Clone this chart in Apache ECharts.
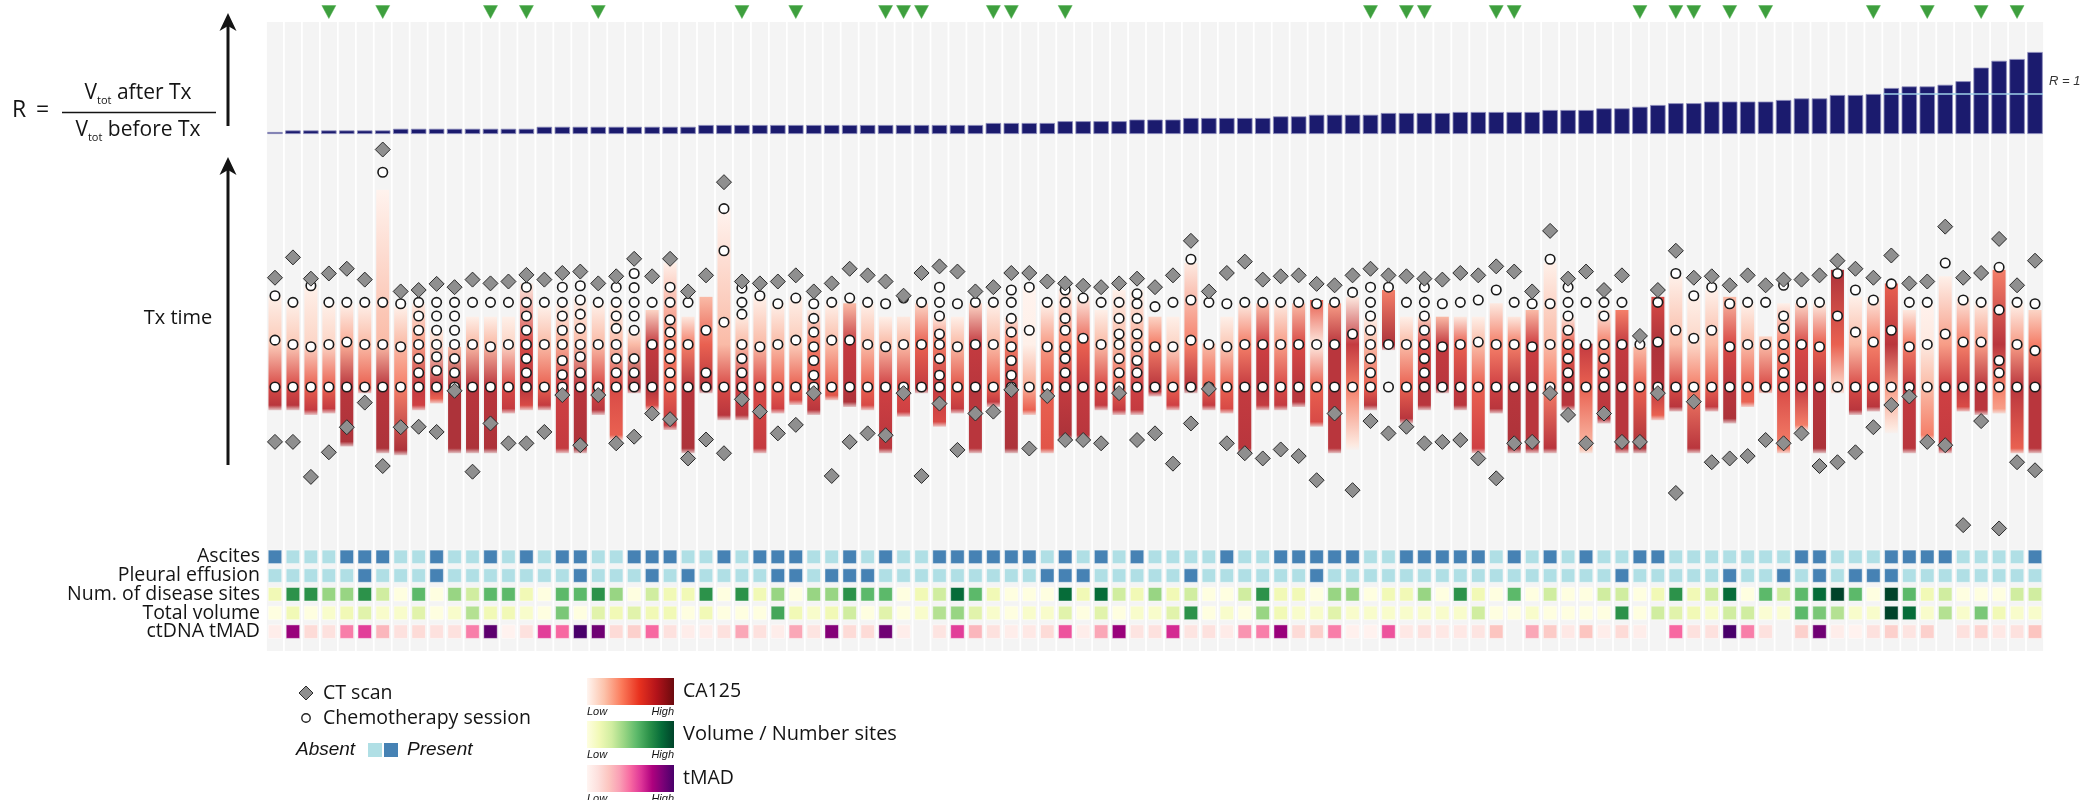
<!DOCTYPE html>
<html>
<head>
<meta charset="utf-8">
<title>Tumour volume response and treatment timelines</title>
<script src="https://cdn.jsdelivr.net/npm/echarts/dist/echarts.min.js"></script>
<style>
  html, body { margin: 0; padding: 0; background: #ffffff; }
  #chart { width: 2093px; height: 800px; }
</style>
</head>
<body>
<div id="chart"></div>
<script>
// ---------------------------------------------------------------------------
// Per-patient data (patients ordered by increasing volume ratio R)
// ---------------------------------------------------------------------------

// R = Vtot after Tx / Vtot before Tx
const volumeRatio = [
  0.05, 0.09, 0.09, 0.09, 0.09, 0.09, 0.09, 0.13, 0.13, 0.13,
  0.13, 0.13, 0.13, 0.13, 0.13, 0.18, 0.18, 0.18, 0.18, 0.18,
  0.18, 0.18, 0.18, 0.18, 0.225, 0.225, 0.225, 0.225, 0.225, 0.225,
  0.225, 0.225, 0.225, 0.225, 0.225, 0.225, 0.225, 0.225, 0.225, 0.225,
  0.275, 0.275, 0.275, 0.275, 0.32, 0.32, 0.32, 0.32, 0.36, 0.36,
  0.36, 0.40, 0.40, 0.40, 0.40, 0.40, 0.44, 0.44, 0.48, 0.48,
  0.48, 0.48, 0.525, 0.525, 0.525, 0.525, 0.55, 0.55, 0.55, 0.55,
  0.55, 0.60, 0.60, 0.60, 0.64, 0.64, 0.68, 0.725, 0.77, 0.77,
  0.81, 0.81, 0.81, 0.81, 0.85, 0.89, 0.89, 0.975, 0.975, 1.0,
  1.15, 1.19, 1.19, 1.23, 1.32, 1.66, 1.83, 1.875, 2.05
];

const patientIds = volumeRatio.map((_, i) => 'PT' + String(i + 1).padStart(3, '0'));

// Patients flagged with a green marker above their column (1-based)
const flaggedPatients = [4, 7, 13, 15, 19, 27, 30, 35, 36, 37, 41, 42, 45, 62, 64, 65,
                         69, 70, 77, 79, 80, 82, 84, 90, 93, 96, 98];

// CT scan times, weeks from first chemotherapy session: [baseline, follow-up]
const ctScanWeeks = [
  [-11.6, 23.1], [-11.6, 27.4], [-19.0, 22.9], [-13.8, 24.0], [-8.5, 25.0],
  [-3.3, 22.7], [-16.7, 50.2], [-8.5, 20.2], [-8.4, 20.5], [-9.5, 21.8],
  [-0.8, 21.1], [-17.9, 22.7], [-7.7, 21.9], [-11.9, 22.3], [-11.9, 23.7],
  [-9.5, 22.7], [-1.7, 24.1], [-12.3, 24.4], [-1.7, 21.9], [-11.9, 23.4],
  [-10.5, 27.1], [-5.6, 23.4], [-6.8, 27.1], [-15.1, 20.2], [-11.1, 23.6],
  [-14.0, 43.3], [-2.6, 22.3], [-5.2, 21.9], [-9.8, 22.3], [-8.0, 23.6],
  [-1.3, 20.2], [-18.8, 21.9], [-11.6, 25.0], [-9.8, 23.6], [-10.2, 22.3],
  [-1.3, 19.3], [-18.8, 24.1], [-3.5, 25.5], [-13.3, 24.4], [-5.6, 20.2],
  [-5.2, 21.1], [-0.6, 24.1], [-13.0, 24.1], [-1.9, 22.3], [-11.2, 21.9],
  [-11.2, 21.4], [-11.9, 21.1], [-1.3, 21.9], [-11.2, 22.9], [-9.8, 21.1],
  [-16.2, 23.6], [-7.7, 30.9], [-0.4, 20.2], [-11.9, 24.1], [-14.0, 26.5],
  [-15.1, 22.7], [-13.2, 23.4], [-14.6, 23.6], [-19.7, 21.8], [-5.6, 21.5],
  [-21.8, 23.6], [-7.2, 25.0], [-9.8, 23.6], [-8.4, 23.4], [-11.9, 22.9],
  [-11.6, 22.7], [-11.2, 24.1], [-15.1, 23.6], [-19.3, 25.5], [-11.9, 24.4],
  [-11.6, 20.2], [-1.3, 33.0], [-5.9, 22.9], [-11.9, 24.4], [-5.6, 20.5],
  [-11.6, 23.6], [-11.6, 10.8], [-1.3, 20.5], [-22.4, 28.8], [-3.1, 23.1],
  [-15.9, 23.4], [-15.1, 21.5], [-14.6, 23.6], [-11.2, 21.5], [-11.9, 22.7],
  [-9.8, 22.7], [-16.7, 23.6], [-15.9, 26.7], [-13.8, 25.0], [-8.5, 23.1],
  [-3.8, 27.8], [-2.0, 21.9], [-11.6, 22.3], [-12.3, 33.9], [-29.2, 23.1],
  [-7.2, 24.1], [-29.9, 31.3], [-15.9, 21.5], [-17.6, 26.7]
];

// Chemotherapy session times, weeks from first session
const chemoWeeks = [
  [0, 9.9, 19.3], [0, 9, 17.9], [0, 8.5, 21.4], [0, 9, 17.9], [0, 9.5, 17.9],
  [0, 9, 17.9], [0, 9, 17.9, 45.4], [0, 8.5, 17.6], [0, 3, 6, 9, 12, 15, 17.9], [0, 3.5, 6.4, 9, 12, 15, 17.9],
  [0, 3, 6, 9, 12, 15, 17.9], [0, 9, 17.9], [0, 8.5, 17.9], [0, 9, 17.9], [0, 3, 6, 9, 12, 15, 17.9, 21.1],
  [0, 9, 17.9], [0, 2.6, 5.6, 9, 12, 15, 17.9, 21.1], [0, 3, 6.4, 9, 12.4, 15.4, 18.4, 21.4], [0, 9, 17.9], [0, 3, 6, 9, 12.4, 15, 17.9, 21.1],
  [0, 3, 6, 12, 15, 17.9, 21, 24], [0, 9, 17.9], [0, 3, 6, 9, 11.6, 14.2, 17.9, 21.1], [0, 9, 17.9], [0, 3, 12],
  [0, 13.7, 28.8, 37.7], [0, 3, 6, 9, 15.4, 17.9, 20.9], [0, 8.5, 19.3], [0, 9, 17.6], [0, 9.9, 18.8],
  [0, 2.5, 5.6, 8.5, 11.6, 14.5, 17.6], [0, 9.9, 17.9], [0, 9.9, 18.8], [0, 9, 17.9], [0, 8.5, 17.6],
  [0, 9, 18.8], [0, 9, 17.9], [0, 2.5, 6, 9, 11.2, 15, 17.9, 21.1], [0, 8.5, 17.6], [0, 9, 17.9],
  [0, 9, 17.9], [0, 2.5, 5.6, 8.5, 11.6, 14.5, 17.9, 20.5], [0, 12, 21.1], [0, 8.5, 17.9], [0, 3, 6, 8.5, 12, 14.5, 17.9, 20.5],
  [0, 10.3, 18.8], [0, 9, 17.9], [0, 3, 6, 9, 11.2, 14.5, 17.9], [0, 3, 5.6, 8.5, 11.2, 14.5, 17.6, 19.7], [0, 8.5, 17.0],
  [0, 8.5, 17.9], [0, 9.9, 18.4, 27], [0, 9, 17.9], [0, 8.5, 17.6], [0, 9, 17.9],
  [0, 9, 17.9], [0, 9, 17.9], [0, 9, 17.9], [0, 9, 17.6], [0, 9, 17.9],
  [0, 11.2, 20.0], [0, 3, 6, 9, 12, 15, 17.9, 21.1], [0, 9, 21.1], [0, 9, 17.9], [0, 3, 6, 9, 12, 15, 17.9, 21.1],
  [0, 8.5, 17.6], [0, 9, 17.9], [0, 9.5, 18.4], [0, 9, 20.5], [0, 9, 17.9],
  [0, 8.5, 17.6], [0, 9, 17.6, 27], [0, 3, 6, 9, 12, 15, 17.9, 21.1], [0, 9, 17.9], [0, 3, 6, 9, 15, 17.9],
  [0, 9, 17.9], [0, 9], [0, 9.5, 17.9], [0, 12, 24], [0, 10.3, 19.3],
  [0, 12, 21.1], [0, 8.5, 17.6], [0, 9, 17.9], [0, 9, 17.9], [0, 3, 6, 9, 12.4, 15, 21.5],
  [0, 9, 17.9], [0, 8.5, 17.9], [0, 15, 24], [0, 11.6, 20.5], [0, 9.5, 18.4],
  [0, 12, 21.8], [0, 8.5, 17.9], [0, 9, 17.9], [0, 11.2, 26.2], [0, 9.5, 18.4],
  [0, 9.5, 17.9], [0, 3, 5.6, 16.3, 25.3], [0, 9, 17.9], [0, 7.7, 17.6]
];

// CA125 follow-up window, weeks: [first sample, last sample]
const ca125Span = [
  [-4.9, 19.3], [-4.9, 17.9], [-5.9, 21.2], [-5.6, 17.7], [-12.6, 17.7],
  [-1.3, 17.7], [-14.0, 41.7], [-14.4, 17.0], [-4.9, 17.7], [-3.5, 12.1],
  [-14.0, 8.5], [-14.0, 14.9], [-14.0, 14.9], [-5.6, 14.9], [-4.9, 21.9],
  [-4.9, 17.0], [-14.0, 17.7], [-14.0, 19.1], [-5.9, 17.7], [-11.2, 17.7],
  [-1.3, 12.1], [-4.9, 16.3], [-9.1, 26.2], [-14.0, 14.9], [-1.3, 19.1],
  [-7.0, 37.5], [-7.0, 14.9], [-14.0, 19.1], [-5.6, 17.7], [-3.8, 19.1],
  [-5.9, 16.3], [-2.8, 17.7], [-4.2, 17.7], [-4.9, 17.7], [-14.0, 14.9],
  [-6.3, 14.9], [-1.3, 17.7], [-8.4, 14.9], [-5.6, 14.9], [-14.0, 17.7],
  [-4.2, 17.7], [-14.0, 14.9], [-5.9, 21.2], [-14.0, 17.7], [-11.2, 20.5],
  [-11.2, 19.1], [-4.9, 16.3], [-5.9, 20.5], [-5.9, 20.5], [-2.0, 14.9],
  [-4.9, 14.9], [-1.3, 26.2], [-4.9, 9.2], [-5.6, 14.9], [-14.0, 17.7],
  [-4.9, 17.7], [-4.9, 17.7], [-4.2, 17.7], [-8.4, 18.4], [-14.0, 17.7],
  [-13.3, 19.1], [-4.9, 14.9], [7.8, 20.5], [-7.7, 14.9], [-4.9, 14.9],
  [-1.3, 14.9], [-4.9, 14.9], [-14.0, 14.9], [-5.6, 17.7], [-14.0, 14.9],
  [-14.0, 16.3], [-14.0, 26.2], [-4.9, 14.9], [-14.0, 9.2], [-7.7, 16.3],
  [-14.0, 16.3], [-14.0, 8.5], [-7.0, 19.1], [-5.2, 23.4], [-14.0, 19.1],
  [-5.2, 20.5], [-7.7, 19.1], [-4.2, 17.7], [-1.3, 10.7], [-14.0, 17.7],
  [-9.1, 17.7], [-14.0, 17.7], [-1.3, 24.8], [-5.9, 19.1], [-5.2, 19.1],
  [-9.8, 21.9], [-14.0, 16.3], [-11.2, 17.7], [-14.0, 23.4], [-5.2, 19.1],
  [-5.9, 17.7], [-5.6, 24.8], [-14.0, 17.7], [-14.0, 16.3]
];

// Relative CA125 level (0 = low, 1 = high): [first sample, week 0, week 9, last sample]
const ca125Level = [
  [0.85, 0.7, 0.25, 0.05], [0.85, 0.7, 0.25, 0.05], [0.8, 0.6, 0.2, 0.05], [0.8, 0.6, 0.2, 0.05], [0.9, 0.85, 0.35, 0.05],
  [0.7, 0.6, 0.3, 0.05], [0.9, 0.85, 0.3, 0.02], [0.9, 0.5, 0.3, 0.05], [0.75, 0.8, 0.4, 0.1], [0.6, 0.8, 0.2, 0.1],
  [0.9, 0.9, 0.5, 0.3], [0.9, 0.85, 0.3, 0.05], [0.9, 0.85, 0.3, 0.05], [0.8, 0.7, 0.2, 0.05], [0.7, 0.85, 0.7, 0.1],
  [0.8, 0.6, 0.3, 0.05], [0.8, 0.75, 0.35, 0.05], [0.9, 0.85, 0.3, 0.05], [0.85, 0.7, 0.3, 0.05], [0.6, 0.7, 0.3, 0.05],
  [0.85, 0.9, 0.3, 0.1], [0.7, 0.9, 0.8, 0.2], [0.8, 0.6, 0.5, 0.05], [0.9, 0.85, 0.5, 0.1], [0.85, 0.85, 0.6, 0.3],
  [0.85, 0.7, 0.3, 0.02], [0.85, 0.75, 0.3, 0.1], [0.8, 0.7, 0.3, 0.05], [0.75, 0.6, 0.3, 0.05], [0.7, 0.6, 0.25, 0.05],
  [0.85, 0.7, 0.5, 0.1], [0.65, 0.6, 0.3, 0.05], [0.9, 0.85, 0.8, 0.3], [0.7, 0.6, 0.3, 0.05], [0.85, 0.75, 0.3, 0.05],
  [0.75, 0.7, 0.3, 0.1], [0.85, 0.8, 0.6, 0.2], [0.7, 0.8, 0.5, 0.1], [0.8, 0.65, 0.3, 0.05], [0.85, 0.85, 0.8, 0.2],
  [0.8, 0.6, 0.3, 0.05], [0.9, 0.85, 0.5, 0.1], [0.6, 0.35, 0.05, 0.02], [0.65, 0.6, 0.4, 0.05], [0.9, 0.8, 0.5, 0.1],
  [0.85, 0.8, 0.6, 0.1], [0.8, 0.7, 0.3, 0.05], [0.8, 0.6, 0.3, 0.05], [0.8, 0.75, 0.35, 0.05], [0.8, 0.85, 0.5, 0.2],
  [0.75, 0.6, 0.2, 0.05], [0.9, 0.85, 0.5, 0.1], [0.8, 0.6, 0.3, 0.3], [0.7, 0.6, 0.25, 0.05], [0.85, 0.8, 0.5, 0.1],
  [0.8, 0.85, 0.75, 0.3], [0.8, 0.7, 0.4, 0.1], [0.85, 0.85, 0.7, 0.3], [0.7, 0.6, 0.1, 0.6], [0.85, 0.85, 0.85, 0.4],
  [0.1, 0.5, 0.8, 0.1], [0.85, 0.6, 0.3, 0.05], [0.85, 0.85, 0.9, 0.5], [0.85, 0.6, 0.3, 0.05], [0.85, 0.85, 0.7, 0.2],
  [0.85, 0.85, 0.8, 0.3], [0.85, 0.8, 0.6, 0.1], [0.75, 0.6, 0.3, 0.05], [0.85, 0.75, 0.5, 0.1], [0.9, 0.85, 0.5, 0.1],
  [0.85, 0.85, 0.75, 0.3], [0.85, 0.5, 0.3, 0.05], [0.85, 0.85, 0.6, 0.1], [0.3, 0.6, 0.8, 0.6], [0.85, 0.8, 0.5, 0.1],
  [0.85, 0.85, 0.8, 0.5], [0.9, 0.6, 0.3, 0.3], [0.6, 0.85, 0.9, 0.7], [0.85, 0.7, 0.3, 0.05], [0.85, 0.5, 0.2, 0.05],
  [0.8, 0.6, 0.3, 0.05], [0.9, 0.85, 0.7, 0.3], [0.6, 0.6, 0.3, 0.05], [0.6, 0.7, 0.3, 0.2], [0.5, 0.7, 0.5, 0.05],
  [0.5, 0.8, 0.7, 0.2], [0.9, 0.85, 0.6, 0.1], [0.3, 0.2, 0.6, 0.9], [0.85, 0.7, 0.3, 0.05], [0.85, 0.7, 0.5, 0.1],
  [0.1, 0.4, 0.85, 0.6], [0.85, 0.8, 0.5, 0.1], [0.5, 0.3, 0.1, 0.03], [0.8, 0.75, 0.4, 0.05], [0.7, 0.8, 0.5, 0.1],
  [0.85, 0.85, 0.4, 0.1], [0.4, 0.5, 0.85, 0.5], [0.6, 0.85, 0.4, 0.05], [0.85, 0.85, 0.5, 0.2]
];

// Clinical annotation rows
const rowLabels = ['Ascites', 'Pleural effusion', 'Num. of disease sites', 'Total volume', 'ctDNA tMAD'];

const ascites = [
  1, 0, 0, 0, 1, 1, 1, 0, 0, 1, 0, 0, 1, 0, 1, 0, 1, 1, 0, 0, 1, 1, 1, 0, 0, 1, 0, 1, 1, 1, 0, 0, 1,
  0, 1, 0, 0, 1, 1, 1, 1, 1, 1, 0, 1, 0, 1, 0, 1, 0, 0, 0, 0, 1, 0, 0, 1, 1, 1, 1, 1, 0, 0, 1, 1, 1,
  1, 1, 0, 1, 0, 1, 0, 1, 0, 0, 1, 1, 0, 0, 0, 0, 0, 0, 0, 1, 1, 0, 0, 0, 1, 1, 1, 1, 0, 0, 0, 0, 1
];

const pleuralEffusion = [
  0, 0, 0, 0, 0, 1, 0, 0, 0, 1, 0, 0, 0, 0, 0, 0, 0, 1, 0, 0, 0, 1, 0, 1, 0, 0, 0, 0, 1, 1, 0, 1, 1,
  1, 0, 0, 0, 0, 0, 0, 0, 0, 0, 1, 1, 1, 0, 0, 0, 0, 0, 1, 0, 0, 0, 0, 0, 0, 1, 0, 0, 0, 0, 0, 0, 0,
  0, 0, 0, 0, 0, 0, 0, 0, 0, 1, 0, 0, 0, 0, 0, 1, 0, 0, 1, 0, 1, 0, 1, 1, 1, 0, 0, 0, 0, 0, 0, 0, 0
];

const diseaseSites = [
  1, 5, 5, 3, 3, 5, 2, 0, 4, 0, 3, 2, 4, 4, 1, 0, 4, 4, 5, 3, 0, 2, 1, 1, 5, 0, 5, 1, 3, 0, 3, 3, 5,
  4, 4, 0, 1, 2, 6, 4, 1, 0, 0, 0, 6, 1, 6, 2, 1, 3, 1, 2, 0, 0, 2, 5, 1, 1, 0, 3, 3, 0, 1, 1, 3, 0,
  5, 1, 0, 4, 0, 2, 0, 0, 2, 2, 0, 1, 5, 1, 2, 6, 0, 4, 2, 4, 6, 7, 4, 0, 7, 4, 1, 2, 0, 0, 0, 2, 2
];

const totalVolume = [
  0, 1, 0, 0.5, 1, 1.5, 0.5, 0.5, 1.5, 0, 0.5, 2.5, 1, 1, 0.5, 0, 3.5, 0, 1.5, 1, 1.5, 1, 1, 0, 1, 0, 0, 0, 4.5, 1, 0.5, 1, 2,
  0, 1.5, 0, 0.5, 2.5, 3, 1.5, 0.5, 0, 0.5, 0.5, 1.5, 0, 1.5, 0, 0.5, 0.5, 1.5, 5, 0, 0.5, 0, 3, 1, 0.5, 0.5, 1.5, 0.5, 0.5, 0.5, 0.5, 0.5, 0.5,
  0.5, 2, 0, 0, 0.5, 0, 0, 0, 0, 5, 0, 2, 1.5, 1, 0.5, 2, 2, 0.3, 0.3, 4, 3.5, 2.5, 0.5, 0.5, 7, 6, 0.5, 2.5, 0.5, 3.5, 1, 0.5, 0.5
];

// ctDNA tMAD, relative (null = no sample)
const tmad = [
  0.05, 0.8, 0.15, 0.12, 0.45, 0.6, 0.3, 0.12, 0.15, 0.12, 0.12, 0.45, 0.95, 0.02, 0.12, 0.6, 0.5, 1, 0.9, 0.15, 0.2, 0.5, 0.12, 0.05, 0.05, 0.12, 0.35, 0.12, 0.05, 0.35, 0.1, 0.85, 0.15,
  0.15, 0.9, 0.05, null, 0.1, 0.6, 0.3, 0.12, 0.05, 0.08, 0.15, 0.55, 0.05, 0.35, 0.8, 0.1, 0.12, 0.65, 0.1, 0.12, 0.06, 0.4, 0.45, 0.8, 0.15, 0.2, 0.45, 0.03, 0.02, 0.55, 0.08, 0.12, 0.08,
  0.08, 0.1, 0.25, null, 0.35, 0.22, 0.08, 0.25, 0.05, 0.15, 0.05, null, 0.5, 0.12, 0.12, 1, 0.45, 0.12, null, 0.2, 0.9, 0.05, 0.02, 0.12, 0.2, 0.1, 0.2, null, 0.12, 0.18, 0.08, 0.12, 0.25
];

// ---------------------------------------------------------------------------
// Colour scales
// ---------------------------------------------------------------------------
const STRIP_REDS = ['#fff6f2', '#fde6dc', '#fbcab8', '#f8a58e', '#f47f69', '#e65a4b', '#cf4043', '#b3343b', '#952e35'];
const LEGEND_REDS = ['#fff5f0', '#fcc2aa', '#fb7a5a', '#e8321f', '#b3131a', '#6a0a0e'];
const YLGN = ['#fefee0', '#f1f9b6', '#d0eda0', '#98d583', '#5cb96a', '#2c924a', '#066c39', '#00432a'];
const RDPU = ['#fff5f2', '#fde0dd', '#fcc5c0', '#fa9fb5', '#f768a1', '#dd3497', '#ae017e', '#7a0177', '#49006a'];
const ABSENT = '#b0dfe5';
const PRESENT = '#4682b4';

function hexToRgb(h) {
  const n = parseInt(h.slice(1), 16);
  return [(n >> 16) & 255, (n >> 8) & 255, n & 255];
}
function lerpRgb(t, palette) {
  t = Math.max(0, Math.min(1, t));
  const s = t * (palette.length - 1);
  const i = Math.min(Math.floor(s), palette.length - 2);
  const f = s - i;
  const a = hexToRgb(palette[i]), b = hexToRgb(palette[i + 1]);
  return a.map((v, k) => Math.round(v + (b[k] - v) * f));
}
function rgba(c, alpha) { return 'rgba(' + c.join(',') + ',' + alpha + ')'; }
function gradientStops(palette) {
  return palette.map((c, k) => ({ offset: k / (palette.length - 1), color: c }));
}

function cellColor(row, v) {
  if (row === 0 || row === 1) return v ? PRESENT : ABSENT;
  if (row === 2 || row === 3) return rgba(lerpRgb(v / 7, YLGN), 1);
  return rgba(lerpRgb(v, RDPU), 1);
}

// ---------------------------------------------------------------------------
// Layout
// ---------------------------------------------------------------------------
const FONT = '"Open Sans", "Noto Sans", sans-serif';
const NARROW = '"Liberation Sans Narrow", "Liberation Sans", sans-serif';
const PLOT_LEFT = 266;
const PLOT_RIGHT = 49;
const FLAG_Y = 3.05;          // marker height on the ratio axis
const INK = '#141414';

// ---------------------------------------------------------------------------
// Series data
// ---------------------------------------------------------------------------
const stripData = ca125Span.map((s, i) => [i, s[0], s[1]].concat(ca125Level[i]));
const chemoData = chemoWeeks.flatMap((ws, i) => ws.map(w => [i, w]));
const ctData = ctScanWeeks.flatMap((ws, i) => ws.map(w => [i, w]));
const flagData = flaggedPatients.map(n => [n - 1, FLAG_Y]);
const rows = [ascites, pleuralEffusion, diseaseSites, totalVolume, tmad];
const cellData = [];
rows.forEach((vals, r) => vals.forEach((v, i) => { if (v !== null) cellData.push([i, r, v]); }));
const aboveOne = volumeRatio.map((v, i) => [v, i]).filter(p => p[0] > 1).map(p => p[1]);
const refLine = [[aboveOne[0], aboveOne[aboveOne.length - 1], 1]];

function renderStrip(params, api) {
  const i = api.value(0), b = api.value(1), t = api.value(2);
  const lv = [api.value(3), api.value(4), api.value(5), api.value(6)];
  const top = api.coord([i, t]);
  const bot = api.coord([i, b]);
  const h = bot[1] - top[1];
  const w = 13;
  const pts = [[t, lv[3]], [9, lv[2]], [0, lv[1]], [b, lv[0]]].filter(p => p[0] <= t && p[0] >= b);
  const stops = [];
  let last = -1;
  pts.forEach(([wk, l]) => {
    const off = (t - wk) / (t - b);
    if (off <= last) return;
    last = off;
    stops.push({ offset: off, color: rgba(lerpRgb(l, STRIP_REDS), 1) });
  });
  const bottomRgb = lerpRgb(lv[0], STRIP_REDS);
  const fade = Math.max(0, 1 - 5 / h);
  const out = stops.filter(s => s.offset < fade);
  out.push({ offset: fade, color: rgba(bottomRgb, 1) });
  out.push({ offset: 1, color: rgba(bottomRgb, 0.25) });
  const topFade = Math.min(0.5, 3 / h);
  out.unshift({ offset: 0, color: rgba(lerpRgb(lv[3], STRIP_REDS), 0.6) });
  if (out[1] && out[1].offset > topFade) out.splice(1, 0, { offset: topFade, color: rgba(lerpRgb(lv[3], STRIP_REDS), 1) });
  return {
    type: 'rect',
    shape: { x: top[0] - w / 2, y: top[1], width: w, height: h },
    style: { fill: { type: 'linear', x: 0, y: 0, x2: 0, y2: 1, colorStops: out } }
  };
}

function renderCell(params, api) {
  const c = api.coord([api.value(0), api.value(1)]);
  const s = 13.5;
  return {
    type: 'rect',
    shape: { x: c[0] - s / 2, y: c[1] - s / 2, width: s, height: s },
    style: { fill: cellColor(api.value(1), api.value(2)), stroke: 'rgba(255,255,255,0.45)', lineWidth: 1 }
  };
}

function renderRefLine(params, api) {
  const a = api.coord([api.value(0), api.value(2)]);
  const b = api.coord([api.value(1), api.value(2)]);
  const half = api.size([1, 0])[0] / 2;
  return {
    type: 'group',
    children: [
      { type: 'line', shape: { x1: a[0] - half + 1, y1: a[1], x2: b[0] + half - 1, y2: b[1] },
        style: { stroke: '#9fd0e8', lineWidth: 1.6 } },
      { type: 'text', x: b[0] + half + 5, y: a[1] - 13,
        style: { text: 'R = 1', fontSize: 13, fontStyle: 'italic', fontFamily: NARROW, fill: '#333',
                 align: 'left', verticalAlign: 'middle', textAlign: 'left', textVerticalAlign: 'middle' } }
    ]
  };
}

// ---------------------------------------------------------------------------
// Decorations: formula, arrows, legend
// ---------------------------------------------------------------------------
function txt(x, y, text, size, extra) {
  return {
    type: 'text', x: x, y: y, z: 50,
    style: Object.assign({
      text: text, fontSize: size, fontFamily: FONT, fill: INK,
      align: 'left', verticalAlign: 'middle', textAlign: 'left', textVerticalAlign: 'middle'
    }, extra || {})
  };
}
function arrow(x, yTip, yEnd) {
  return [
    { type: 'line', z: 50, shape: { x1: x, y1: yEnd, x2: x, y2: yTip + 8 }, style: { stroke: INK, lineWidth: 3 } },
    { type: 'polygon', z: 50, shape: { points: [[x, yTip], [x - 8.5, yTip + 18], [x, yTip + 13], [x + 8.5, yTip + 18]] },
      style: { fill: INK } }
  ];
}
function fracText(x, y, word) {
  const rich = {
    v: { fontSize: 21, fontFamily: FONT, lineHeight: 26, fill: INK },
    s: { fontSize: 11, fontFamily: FONT, lineHeight: 12, verticalAlign: 'bottom', fill: INK },
    n: { fontSize: 21, fontFamily: FONT, lineHeight: 26, fill: INK }
  };
  return txt(x, y, '{v|V}{s|tot}{n| ' + word + ' Tx}', 21,
             { rich: rich, align: 'center', textAlign: 'center' });
}
function legendGradient(y, palette, label, labelSize) {
  return [
    { type: 'rect', z: 50, shape: { x: 587, y: y, width: 87, height: 27 },
      style: { fill: { type: 'linear', x: 0, y: 0, x2: 1, y2: 0, colorStops: gradientStops(palette) } } },
    txt(587, y + 34, 'Low', 11, { fontFamily: NARROW, fontStyle: 'italic' }),
    txt(674, y + 34, 'High', 11, { fontFamily: NARROW, fontStyle: 'italic', align: 'right', textAlign: 'right' }),
    txt(683, y + 13, label, labelSize)
  ];
}

const graphics = [].concat(
  [txt(12, 110, 'R', 23), txt(36, 110, '=', 23)],
  [{ type: 'line', z: 50, shape: { x1: 62, y1: 112.5, x2: 216, y2: 112.5 }, style: { stroke: INK, lineWidth: 1.5 } }],
  [fracText(138, 93, 'after'), fracText(138, 130, 'before')],
  arrow(228, 13, 126),
  arrow(228, 157, 465),
  [txt(178, 318, 'Tx time', 20, { align: 'center', textAlign: 'center' })],
  // symbol legend
  [{ type: 'polygon', z: 50, shape: { points: [[306, 686], [313, 693], [306, 700], [299, 693]] },
     style: { fill: '#8f8f8f', stroke: '#2a2a2a', lineWidth: 1 } },
   txt(323, 693, 'CT scan', 19.5),
   { type: 'circle', z: 50, shape: { cx: 306, cy: 718, r: 4.2 }, style: { fill: '#fff', stroke: '#222', lineWidth: 1.4 } },
   txt(323, 718, 'Chemotherapy session', 19.5),
   txt(296, 750, 'Absent', 19, { fontFamily: NARROW, fontStyle: 'italic' }),
   { type: 'rect', z: 50, shape: { x: 368, y: 743, width: 14, height: 14 }, style: { fill: ABSENT } },
   { type: 'rect', z: 50, shape: { x: 384, y: 743, width: 14, height: 14 }, style: { fill: PRESENT } },
   txt(407, 750, 'Present', 19, { fontFamily: NARROW, fontStyle: 'italic' })],
  legendGradient(678, LEGEND_REDS, 'CA125', 19.5),
  legendGradient(721, YLGN, 'Volume / Number sites', 20),
  legendGradient(765, RDPU, 'tMAD', 19.5)
);

// ---------------------------------------------------------------------------
// Chart
// ---------------------------------------------------------------------------
const grids = [
  { left: PLOT_LEFT, right: PLOT_RIGHT, top: 22, height: 629 },     // column backdrop
  { left: PLOT_LEFT, right: PLOT_RIGHT, top: 4, height: 130 },      // volume ratio bars
  { left: PLOT_LEFT, right: PLOT_RIGHT, top: 141, height: 397.4 },  // treatment timelines
  { left: PLOT_LEFT, right: PLOT_RIGHT, top: 547.5, height: 93.5 }  // clinical annotations
];

const option = {
  animation: false,
  backgroundColor: '#ffffff',
  textStyle: { fontFamily: FONT },
  grid: grids,
  xAxis: grids.map((g, k) => ({ type: 'category', gridIndex: k, data: patientIds, show: false })),
  yAxis: [
    { type: 'value', gridIndex: 0, min: 0, max: 1, show: false },
    { type: 'value', gridIndex: 1, min: 0, max: 3.25, show: false },
    { type: 'value', gridIndex: 2, min: -32, max: 52, show: false },
    { type: 'category', gridIndex: 3, data: rowLabels, inverse: true,
      axisLine: { show: false }, axisTick: { show: false }, splitLine: { show: false },
      axisLabel: { interval: 0, fontSize: 19.5, fontFamily: FONT, color: INK, margin: 6, lineHeight: 19 } }
  ],
  series: [
    { type: 'bar', xAxisIndex: 0, yAxisIndex: 0, silent: true, z: 0,
      data: patientIds.map(() => 1), barWidth: 16.2, itemStyle: { color: '#f4f4f4' } },
    { type: 'bar', xAxisIndex: 1, yAxisIndex: 1, z: 2, data: volumeRatio, barWidth: 15.4,
      itemStyle: { color: '#1b1b6e', borderColor: '#8b8bbb', borderWidth: 0.8 } },
    { type: 'custom', xAxisIndex: 1, yAxisIndex: 1, z: 3, data: refLine,
      encode: { x: [0, 1], y: 2 }, renderItem: renderRefLine },
    { type: 'scatter', xAxisIndex: 1, yAxisIndex: 1, z: 3, data: flagData, clip: false,
      symbol: 'triangle', symbolRotate: 180, symbolSize: [14, 13],
      itemStyle: { color: '#0e870e', borderColor: '#4caf4c', borderWidth: 0.6 } },
    { type: 'custom', xAxisIndex: 2, yAxisIndex: 2, z: 2, data: stripData,
      encode: { x: 0, y: [1, 2] }, renderItem: renderStrip },
    { type: 'scatter', xAxisIndex: 2, yAxisIndex: 2, z: 4, data: chemoData,
      symbol: 'circle', symbolSize: 9.5,
      itemStyle: { color: '#ffffff', borderColor: '#1a1a1a', borderWidth: 1.6, opacity: 1 } },
    { type: 'scatter', xAxisIndex: 2, yAxisIndex: 2, z: 5, data: ctData,
      symbol: 'diamond', symbolSize: 15,
      itemStyle: { color: '#8f8f8f', borderColor: '#2a2a2a', borderWidth: 1, opacity: 1 } },
    { type: 'custom', xAxisIndex: 3, yAxisIndex: 3, z: 2, data: cellData,
      encode: { x: 0, y: 1 }, renderItem: renderCell }
  ],
  graphic: graphics
};

const chart = echarts.init(document.getElementById('chart'), null, { renderer: 'canvas', width: 2093, height: 800 });
chart.setOption(option);
</script>
</body>
</html>
